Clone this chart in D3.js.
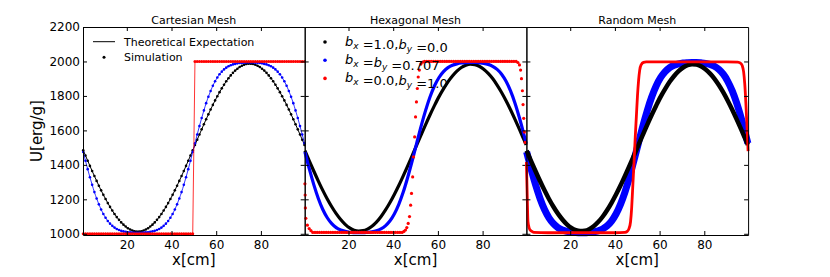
<!DOCTYPE html>
<html>
<head>
<meta charset="utf-8">
<script src="https://cdn.jsdelivr.net/npm/d3@7/dist/d3.min.js"></script>
<style>
  body { margin: 0; background: #fff; }
  text { font-family: "DejaVu Sans", sans-serif; }
</style>
</head>
<body>
<svg id="chart" width="830" height="277"></svg>
<script>
// ---- data ----
const titles = ["Cartesian Mesh", "Hexagonal Mesh", "Random Mesh"];
const xTicks = [20, 40, 60, 80];
const yTicks = [1000, 1200, 1400, 1600, 1800, 2000, 2200];

// cartesian mesh: one value per cell
const xCart = [0.5,1.5,2.5,3.5,4.5,5.5,6.5,7.5,8.5,9.5,10.5,11.5,12.5,13.5,14.5,15.5,16.5,17.5,18.5,19.5,
  20.5,21.5,22.5,23.5,24.5,25.5,26.5,27.5,28.5,29.5,30.5,31.5,32.5,33.5,34.5,35.5,36.5,37.5,38.5,39.5,
  40.5,41.5,42.5,43.5,44.5,45.5,46.5,47.5,48.5,49.5,50.5,51.5,52.5,53.5,54.5,55.5,56.5,57.5,58.5,59.5,
  60.5,61.5,62.5,63.5,64.5,65.5,66.5,67.5,68.5,69.5,70.5,71.5,72.5,73.5,74.5,75.5,76.5,77.5,78.5,79.5,
  80.5,81.5,82.5,83.5,84.5,85.5,86.5,87.5,88.5,89.5,90.5,91.5,92.5,93.5,94.5,95.5,96.5,97.5,98.5,99.5];
const cartBlack = [1485,1454,1424,1394,1364,1335,1307,1279,1252,1226,1202,1178,1156,1135,1115,1097,1081,1066,1053,1042,1032,1025,1019,1015,1013,
  1013,1015,1019,1025,1032,1042,1053,1066,1081,1097,1115,1135,1156,1178,1202,1226,1252,1279,1307,1335,1364,1394,1424,1454,1485,
  1515,1546,1576,1606,1636,1665,1693,1721,1748,1774,1798,1822,1844,1865,1885,1903,1919,1934,1947,1958,1968,1975,1981,1985,1987,
  1987,1985,1981,1975,1968,1958,1947,1934,1919,1903,1885,1865,1844,1822,1798,1774,1748,1721,1693,1665,1636,1606,1576,1546,1515];
const cartBlue = [1475,1424,1375,1328,1284,1242,1205,1171,1141,1115,1093,1074,1059,1046,1036,1028,1022,1017,1014,1011,1009,1008,1007,1006,1006,
  1006,1006,1007,1008,1009,1011,1014,1017,1022,1028,1036,1046,1059,1074,1093,1115,1141,1171,1205,1242,1284,1328,1375,1424,1475,
  1525,1576,1625,1672,1716,1758,1795,1829,1859,1885,1907,1926,1941,1954,1964,1972,1978,1983,1986,1989,1991,1992,1993,1994,1994,
  1994,1994,1993,1992,1991,1989,1986,1983,1978,1972,1964,1954,1941,1926,1907,1885,1859,1829,1795,1758,1716,1672,1625,1576,1525];
const cartRed = [1000,1000,1000,1000,1000,1000,1000,1000,1000,1000,1000,1000,1000,1000,1000,1000,1000,1000,1000,1000,
  1000,1000,1000,1000,1000,1000,1000,1000,1000,1000,1000,1000,1000,1000,1000,1000,1000,1000,1000,1000,
  1000,1000,1000,1000,1000,1000,1000,1000,1000,1000,2000,2000,2000,2000,2000,2000,2000,2000,2000,2000,
  2000,2000,2000,2000,2000,2000,2000,2000,2000,2000,2000,2000,2000,2000,2000,2000,2000,2000,2000,2000,
  2000,2000,2000,2000,2000,2000,2000,2000,2000,2000,2000,2000,2000,2000,2000,2000,2000,2000,2000,2000];

// coarser grid for the theory curve and the dense bands
const xGrid = [0.5,2.5,4.5,6.5,8.5,10.5,12.5,14.5,16.5,18.5,20.5,22.5,24.5,26.5,28.5,30.5,32.5,34.5,36.5,38.5,
  40.5,42.5,44.5,46.5,48.5,50.5,52.5,54.5,56.5,58.5,60.5,62.5,64.5,66.5,68.5,70.5,72.5,74.5,76.5,78.5,
  80.5,82.5,84.5,86.5,88.5,90.5,92.5,94.5,96.5,98.5,99.5];
const theory = [1485,1424,1364,1307,1252,1202,1156,1115,1081,1053,1032,1019,1013,1015,1025,1042,1066,1097,1135,1178,
  1226,1279,1335,1394,1454,1515,1576,1636,1693,1748,1798,1844,1885,1919,1947,1968,1981,1987,1985,1975,
  1958,1934,1903,1865,1822,1774,1721,1665,1606,1546,1515];
const hexBlack = [1482,1422,1363,1306,1252,1202,1157,1117,1083,1055,1034,1021,1016,1018,1027,1044,1068,1099,1137,1180,
  1228,1280,1336,1394,1454,1514,1574,1634,1691,1745,1796,1841,1882,1916,1944,1965,1978,1984,1982,1972,
  1955,1931,1901,1863,1820,1772,1720,1664,1606,1546,1516];
const hexBlue = [1475,1375,1284,1205,1141,1093,1059,1036,1022,1014,1009,1007,1006,1006,1008,1011,1017,1028,1046,1074,
  1115,1171,1242,1328,1424,1525,1625,1716,1795,1859,1907,1941,1964,1978,1986,1991,1993,1994,1994,1992,
  1989,1983,1972,1954,1926,1885,1829,1758,1672,1576,1525];
const randBlack = hexBlack;
const randBlue = hexBlue;

// hexagonal mesh, b_x = 0: individual points
const hexRedX = [0.5,0.6,0.7,0.9,1.6,2.4,3.2,4,5,6,7,8,9,10,11,12,13,14,15,16,17,18,19,20,21,22,23,24,
  25,26,27,28,29,30,31,32,33,34,35,36,37,38,39,40,41,42,43,44,
  44.8,45.5,46.1,46.7,47.3,47.8,48.2,48.7,49.1,49.6,50.0,50.4,50.8,51.2,51.7,52.4,53.2,
  54,55,56,57,58,59,60,61,62,63,64,65,66,67,68,69,70,71,72,73,74,75,76,77,78,79,80,81,82,83,84,85,
  86,87,88,89,90,91,92,93,94,95,95.8,96.5,97.0,97.4,97.8,98.1,98.4,98.7,99.0];
const hexRedV = [1290,1225,1150,1090,1050,1030,1018,1008,1008,1008,1008,1008,1008,1008,1008,1008,1008,1008,1008,1008,1008,1008,1008,1008,1008,1008,1008,1008,
  1008,1008,1008,1008,1008,1008,1008,1008,1008,1008,1008,1008,1008,1008,1008,1008,1008,1008,1008,1008,
  1014,1022,1036,1060,1100,1166,1234,1330,1446,1562,1678,1765,1843,1910,1950,1985,1996,
  2000,2000,2000,2000,2000,2000,2000,2000,2000,2000,2000,2000,2000,2000,2000,2000,2000,2000,2000,2000,2000,2000,2000,2000,2000,2000,2000,2000,2000,2000,2000,2000,
  2000,2000,2000,2000,2000,2000,2000,2000,2000,2000,1994,1980,1950,1900,1830,1750,1670,1590,1530];

// random mesh, b_x = 0: dense enough to read as a line
const randRedX = [0.4,0.8,1.1,1.6,2.1,3.0,3.7,10,20,30,40,44.5,45.5,46.3,47.0,47.5,47.9,48.3,48.7,49.1,49.6,
  50.1,50.6,51.1,51.8,52.8,54,60,70,80,90,95,96.2,97.0,97.6,98.1,98.6,99.0,99.4,99.6];
const randRedV = [1417,1200,1070,1035,1021,1013,1008,1006,1006,1006,1006,1008,1014,1030,1070,1150,1250,1350,1450,1560,1680,
  1800,1890,1950,1982,1995,1998,1998,1998,1998,1998,1996,1990,1975,1940,1870,1760,1650,1540,1480];

// ---- layout ----
const padLeft = 83, padTop = 27, panelW = 221.7, panelH = 208;
const svg = d3.select("#chart");
const x = d3.scaleLinear().domain([0.4, 99.6]).range([0, panelW]);
const y = d3.scaleLinear().domain([993, 2200]).range([panelH, 0]);
const line = d3.line().x(d => x(d[0])).y(d => y(d[1])).curve(d3.curveMonotoneX);
const zip = (xs, vs) => xs.map((v, i) => [v, vs[i]]);

titles.forEach((t, i) => {
    let g = svg.append("g").attr("transform", "translate(" + (padLeft + i * panelW) + "," + padTop + ")");

    if (i === 0) {
        g.append("path").datum(zip(xGrid, theory)).attr("d", line)
            .attr("fill", "none").attr("stroke", "#000").attr("stroke-width", 1);
        g.selectAll(".kdot").data(zip(xCart, cartBlack)).enter().append("circle")
            .attr("cx", d => x(d[0])).attr("cy", d => y(d[1])).attr("r", 1.3).attr("fill", "#000");
        g.append("path").datum(zip(xCart, cartBlue)).attr("d", line)
            .attr("fill", "none").attr("stroke", "#00f").attr("stroke-width", 0.8);
        g.selectAll(".bdot").data(zip(xCart, cartBlue)).enter().append("circle")
            .attr("cx", d => x(d[0])).attr("cy", d => y(d[1])).attr("r", 1.3).attr("fill", "#00f");
        g.append("path").datum(zip(xCart, cartRed)).attr("d", d3.line().x(d => x(d[0])).y(d => y(d[1])))
            .attr("fill", "none").attr("stroke", "#f00").attr("stroke-width", 0.8);
        g.selectAll(".rdot").data(zip(xCart, cartRed)).enter().append("circle")
            .attr("cx", d => x(d[0])).attr("cy", d => y(d[1])).attr("r", 1.5).attr("fill", "#f00");
    } else if (i === 1) {
        g.append("path").datum(zip(xGrid, hexBlack)).attr("d", line)
            .attr("fill", "none").attr("stroke", "#000").attr("stroke-width", 3.2);
        g.append("path").datum(zip(xGrid, hexBlue)).attr("d", line)
            .attr("fill", "none").attr("stroke", "#00f").attr("stroke-width", 3.2);
        g.selectAll(".rdot").data(zip(hexRedX, hexRedV)).enter().append("circle")
            .attr("cx", d => x(d[0])).attr("cy", d => y(d[1])).attr("r", 1.6).attr("fill", "#f00");
    } else {
        g.append("path").datum(zip(xGrid, randBlue)).attr("d", line)
            .attr("fill", "none").attr("stroke", "#00f").attr("stroke-width", 7);
        g.append("path").datum(zip(xGrid, randBlack)).attr("d", line)
            .attr("fill", "none").attr("stroke", "#000").attr("stroke-width", 4.5);
        g.append("path").datum(zip(randRedX, randRedV)).attr("d", line)
            .attr("fill", "none").attr("stroke", "#f00").attr("stroke-width", 2.8);
    }

    // axes, ticks pointing inward
    let bottom = g.append("g").attr("transform", "translate(0," + panelH + ")")
        .call(d3.axisBottom(x).tickValues(xTicks).tickSize(-4).tickSizeOuter(0).tickPadding(5));
    let topAx = g.append("g")
        .call(d3.axisTop(x).tickValues(xTicks).tickSize(-4).tickSizeOuter(0).tickFormat(""));
    let leftAx = g.append("g")
        .call(d3.axisLeft(y).tickValues(yTicks).tickSize(-4).tickSizeOuter(0).tickPadding(3)
            .tickFormat(i === 0 ? d3.format("d") : ""));
    let rightAx = g.append("g").attr("transform", "translate(" + panelW + ",0)")
        .call(d3.axisRight(y).tickValues(yTicks).tickSize(-4).tickSizeOuter(0).tickFormat(""));
    [bottom, topAx, leftAx, rightAx].forEach(a => {
        a.selectAll("text").attr("font-family", "DejaVu Sans").attr("font-size", 12).attr("fill", "#000");
        a.selectAll("line, path").attr("stroke", "#000");
    });

    g.append("text").attr("x", panelW / 2).attr("y", -3).attr("text-anchor", "middle")
        .attr("font-size", 11).text(t);
    g.append("text").attr("x", panelW / 2).attr("y", panelH + 30).attr("text-anchor", "middle")
        .attr("font-size", 15).text("x[cm]");
});

svg.append("text").attr("transform", "translate(42," + (padTop + panelH / 2) + ") rotate(-90)")
    .attr("text-anchor", "middle").attr("font-size", 15).text("U[erg/g]");

// legend, first panel
svg.append("line").attr("x1", 93).attr("x2", 115).attr("y1", 41.7).attr("y2", 41.7)
    .attr("stroke", "#000").attr("stroke-width", 1);
svg.append("circle").attr("cx", 104).attr("cy", 57.3).attr("r", 1.5).attr("fill", "#000");
svg.append("text").attr("x", 124).attr("y", 45.7).attr("font-size", 11).text("Theoretical Expectation");
svg.append("text").attr("x", 124).attr("y", 61.3).attr("font-size", 11).text("Simulation");

// legend, second panel (math labels)
const hexLegend = [
    {color: "#000", parts: [["b", "x"], " =1.0,", ["b", "y"], " =0.0"]},
    {color: "#00f", parts: [["b", "x"], " =", ["b", "y"], " =0.707"]},
    {color: "#f00", parts: [["b", "x"], " =0.0,", ["b", "y"], " =1.0"]}
];
hexLegend.forEach((d, i) => {
    let cy = 42 + i * 18.2;
    svg.append("circle").attr("cx", 325).attr("cy", cy).attr("r", 1.8).attr("fill", d.color);
    let tx = svg.append("text").attr("x", 345).attr("y", cy + 4)
        .attr("font-family", "Liberation Serif").attr("font-size", 13);
    d.parts.forEach(p => {
        if (Array.isArray(p)) {
            tx.append("tspan").attr("font-style", "italic").text(p[0]);
            tx.append("tspan").attr("font-style", "italic").attr("font-size", 9).attr("dy", 3).text(p[1]);
            tx.append("tspan").attr("dy", -3).text("");
        } else {
            tx.append("tspan").text(p);
        }
    });
});
</script>
</body>
</html>
